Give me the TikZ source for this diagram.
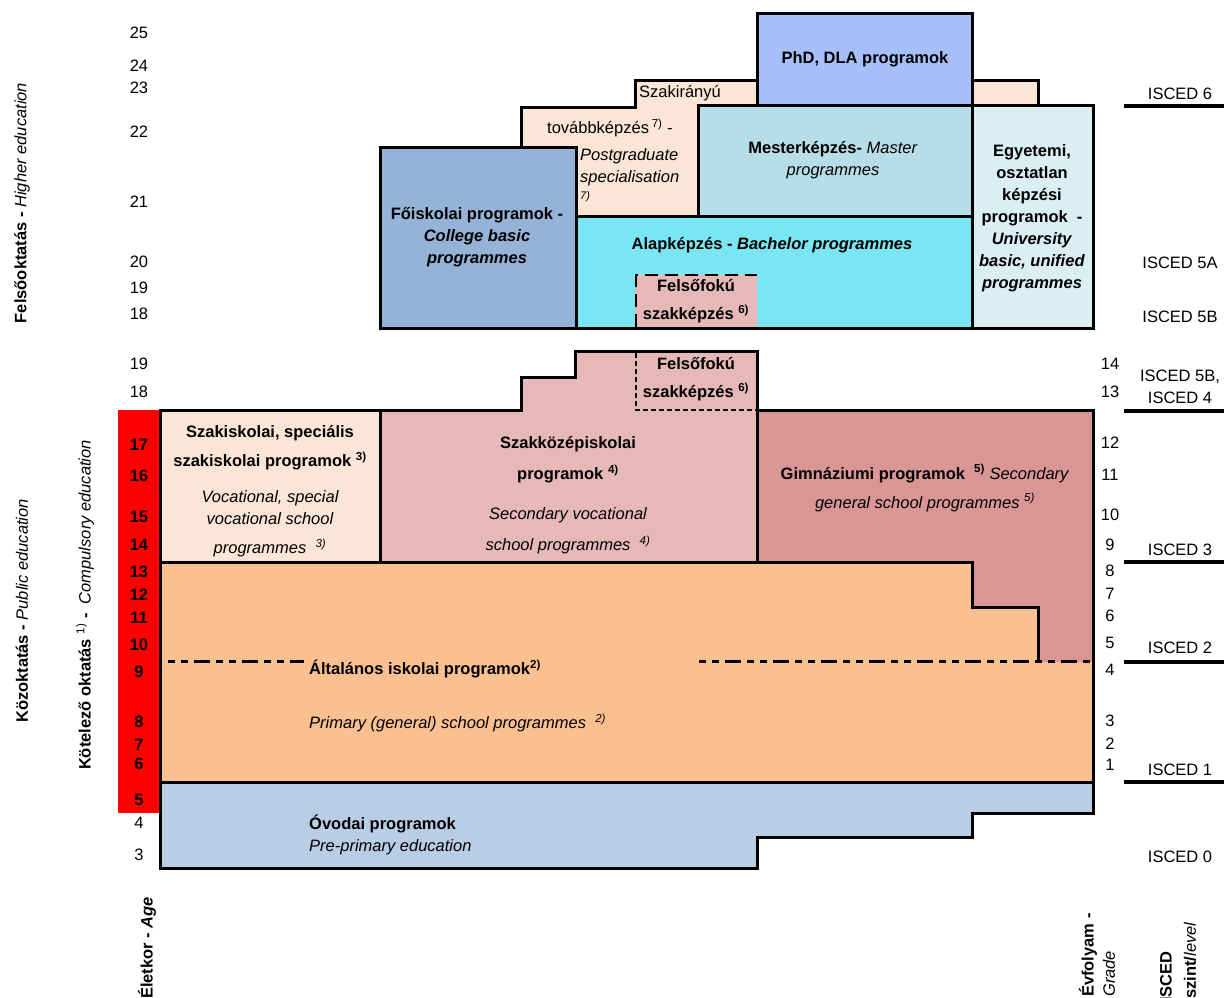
\documentclass[tikz,border=0pt]{standalone}
\usepackage{fontspec}
\setmainfont{Liberation Sans}
\definecolor{phdblue}{HTML}{A6BFF9}
\definecolor{peach}{HTML}{FBE5D6}
\definecolor{masterblue}{HTML}{B7DDE8}
\definecolor{bachcyan}{HTML}{7AE6F3}
\definecolor{unilight}{HTML}{DAEEF3}
\definecolor{collblue}{HTML}{95B3D7}
\definecolor{rose}{HTML}{E6B8B7}
\definecolor{darkrose}{HTML}{D99694}
\definecolor{primorange}{HTML}{FAC090}
\definecolor{kindblue}{HTML}{B9CDE5}

\begin{document}
\begin{tikzpicture}[x=1pt, y=-1pt
    , every node/.style = {font=\fontsize{16.5}{22}\selectfont, inner sep=0pt}
    , prog/.style = {draw=black, line width=3pt}
    , bigdash/.style = {line width=2.6pt, dash pattern=on 13pt off 7pt}
    , smalldash/.style = {line width=2.6pt, dash pattern=on 5pt off 3pt}
    , dashdot/.style = {line width=3pt, dash pattern=on 7pt off 6pt on 7pt off 6pt on 16pt off 6pt}
    , bold/.style = {font=\fontsize{16.5}{22}\selectfont\bfseries}
    , ital/.style = {font=\fontsize{16.5}{22}\selectfont\itshape}
    , sep/.style = {line width=3.5pt}
]
\useasboundingbox (0,0) rectangle (1224,997);
\clip (0,0) rectangle (1224,997);

% higher education
\filldraw[prog, fill=peach] (521,216) -- (521,107) -- (635,107) -- (635,80) -- (757,80) -- (757,216) -- cycle;
\filldraw[prog, fill=peach] (972,80) rectangle (1038,105);
\filldraw[prog, fill=phdblue] (757,13) rectangle (972,105);
\filldraw[prog, fill=masterblue] (698,105) rectangle (972,216);
\filldraw[prog, fill=collblue] (380,147) rectangle (576,328);
\filldraw[prog, fill=bachcyan] (576,216) rectangle (972,328);
\fill[rose] (635,275) rectangle (757,326.5);
\draw[bigdash] (636,326.5) -- (636,275) -- (757,275);
\filldraw[prog, fill=unilight] (972,105) rectangle (1093,328);

% public education
\fill[red] (118,410) rectangle (160,813);
\filldraw[prog, fill=rose] (380,410) -- (521,410) -- (521,377) -- (575,377) -- (575,351) -- (757,351) -- (757,562) -- (380,562) -- cycle;
\draw[smalldash] (636,353) -- (636,410) -- (757,410);
\filldraw[prog, fill=peach] (160,410) rectangle (380,562);
\fill[darkrose] (757,410) rectangle (1093,662);
\draw[prog] (757,562) -- (757,410) -- (1093,410) -- (1093,662);
\fill[primorange] (160,562) -- (972,562) -- (972,607) -- (1038,607) -- (1038,662) -- (1093,662) -- (1093,782) -- (160,782) -- cycle;
\draw[prog] (1093,662) -- (1093,782) -- (160,782) -- (160,562) -- (972,562) -- (972,607) -- (1038,607) -- (1038,662);
\draw[dashdot] (168,661) -- (304,661);
\draw[dashdot] (699,661) -- (1093,661);
\filldraw[prog, fill=kindblue] (160,782) -- (1093,782) -- (1093,813) -- (972,813) -- (972,837) -- (757,837) -- (757,868) -- (160,868) -- cycle;

% programme texts
\node[bold] (phd) at (865,59) {PhD, DLA programok};
\node[anchor=west] (szakir) at (639,93) {Szakirányú};
\node[anchor=west] (tovabb) at (547,128) {továbbképzés\,\textsuperscript{7)} -};
\node[ital, anchor=west, align=left] (postgr) at (580,167) {Postgraduate\\specialisation};
\node[anchor=west, font=\fontsize{11}{13}\selectfont\itshape] (postfn) at (580,197) {7)};
\node[align=center] (master) at (833,160) {\textbf{Mesterképzés-} \textit{Master}\\\textit{programmes}};
\node[bold, align=center] (college) at (477,237) {Főiskolai programok -\\\textit{College basic}\\\textit{programmes}};
\node[bold] (bachelor) at (772,245) {Alapképzés - \textit{Bachelor programmes}};
\node[bold, align=center] (hvoc) at (696,301) {Felsőfokú\\[6pt]szakképzés \textsuperscript{6)}};
\node[bold, align=center] (unified) at (1032,218) {Egyetemi,\\osztatlan\\képzési\\programok~~-\\\textit{University}\\\textit{basic, unified}\\\textit{programmes}};
\node[bold, align=center] (lvoc) at (696,379) {Felsőfokú\\[6pt]szakképzés \textsuperscript{6)}};
\node[bold, align=center] (vocbf) at (270,448) {Szakiskolai, speciális\\[7pt]szakiskolai programok \textsuperscript{3)}};
\node[ital, align=center] (vocit) at (270,524) {Vocational, special\\vocational school\\[7pt]programmes \ \textsuperscript{3)}};
\node[bold, align=center] (secbf) at (568,460) {Szakközépiskolai\\[9pt]programok \textsuperscript{4)}};
\node[ital, align=center] (secit) at (568,531) {Secondary vocational\\[9pt]school programmes \ \textsuperscript{4)}};
\node[align=center] (gimn) at (925,488) {\textbf{Gimnáziumi programok} \ \textsuperscript{\bfseries 5)} \textit{Secondary}\\[7pt]\textit{general school programmes} \textsuperscript{\itshape 5)}};
\node[bold, anchor=west] (primbf) at (309,669) {Általános iskolai programok\textsuperscript{2)}};
\node[ital, anchor=west] (primit) at (309,723) {Primary (general) school programmes \ \textsuperscript{2)}};
\node[anchor=west, align=left] (kinder) at (309,835) {\textbf{Óvodai programok}\\\textit{Pre-primary education}};

% side labels
\node[rotate=90] (higher) at (22,203) {\textbf{Felsőoktatás -} \textit{Higher education}};
\node[rotate=90] (public) at (22,611) {\textbf{Közoktatás -} \textit{Public education}};
\node[rotate=90] (compul) at (85,605) {\textbf{Kötelező oktatás} \textsuperscript{1)} \textbf{-} \ \textit{Compulsory education}};
\node[rotate=90, anchor=west] (agelbl) at (147,999) {\textbf{Életkor - \textit{Age}}};
\node[rotate=90, anchor=west] (gradelbl) at (1088,997) {\textbf{Évfolyam -}};
\node[rotate=90, anchor=west] (gradeen) at (1109,997) {\textit{Grade}};
\node[rotate=90, anchor=west] (iscedlbl) at (1166,1002) {\textbf{ISCED}};
\node[rotate=90, anchor=west] (levellbl) at (1190,999) {\textbf{szint/}\textit{level}};

% ages, grades, levels
\foreach \a/\y in {25/33, 24/66, 23/88, 22/132, 21/202, 20/262, 19/288, 18/314}
    \node (hage\a) at (139,\y) {\a};
\foreach \a/\y in {19/364, 18/392, 4/823, 3/855}
    \node (page\a) at (139,\y) {\a};
\foreach \a/\y in {17/445, 16/476, 15/517, 14/545, 13/572, 12/595, 11/618, 10/645, 9/672, 8/722, 7/745, 6/764, 5/800}
    \node[bold] (cage\a) at (139,\y) {\a};
\foreach \g/\y in {14/364, 13/392, 12/443, 11/475, 10/515, 9/545, 8/571, 7/594, 6/616, 5/643, 4/670, 3/721, 2/744, 1/765}
    \node (grade\g) at (1110,\y) {\g};
\foreach \l/\y in {6/94, 5A/263, 5B/317, 3/550, 2/648, 1/770, 0/857}
    \node (isced\l) at (1180,\y) {ISCED \l};
\node[align=center] (isced4) at (1180,387) {ISCED 5B,\\ISCED 4};
\foreach \y in {106, 411, 562, 662, 782}
    \draw[sep] (1124,\y) -- (1224,\y);
\end{tikzpicture}
\end{document}
